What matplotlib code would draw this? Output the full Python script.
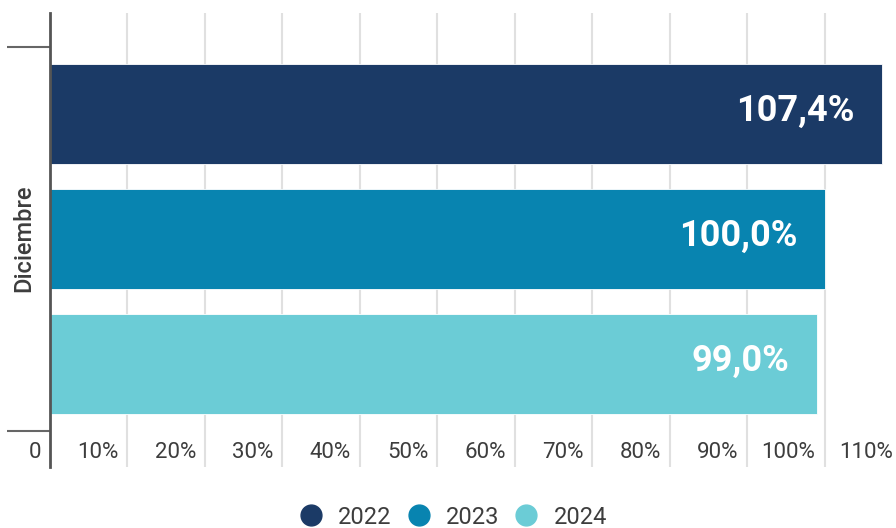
import matplotlib.pyplot as plt
from matplotlib.lines import Line2D
from matplotlib.transforms import ScaledTranslation

plt.rcParams['font.family'] = ['Roboto', 'DejaVu Sans']

# data
category = 'Diciembre'
years = ['2022', '2023', '2024']
values = [107.4, 100.0, 99.0]
value_labels = ['107,4%', '100,0%', '99,0%']
colors = ['#1B3A66', '#0884B0', '#6BCCD6']
xticks = [0, 10, 20, 30, 40, 50, 60, 70, 80, 90, 100, 110]
xtick_labels = ['0', '10%', '20%', '30%', '40%', '50%', '60%', '70%',
                '80%', '90%', '100%', '110%']

W, H, DPI = 896, 528, 100
fig = plt.figure(figsize=(W / DPI, H / DPI), dpi=DPI)
ax = fig.add_axes([50 / W, (H - 467) / H, 852 / W, 454 / H])

pos = list(range(len(values)))
ax.barh(pos, values, height=0.8, color=colors, edgecolor='white', linewidth=0.6, zorder=3)

ax.set_xlim(0, 110)
ax.set_ylim(2.824, -0.808)

# grid
ax.set_xticks(xticks)
ax.set_xticklabels(xtick_labels)
ax.grid(axis='x', color='#E0E0E0', linewidth=1.5, zorder=0)
ax.tick_params(axis='x', length=0, pad=0, labelsize=16, labelcolor='#3d3d3d')
for lab in ax.get_xticklabels():
    lab.set_ha('right')
    lab.set_va('center')
    lab.set_transform(lab.get_transform() + ScaledTranslation(-9 / DPI, 15 / DPI, fig.dpi_scale_trans))

# category boundary ticks on y axis
ax.set_yticks([-0.536, 2.536])
ax.set_yticklabels(['', ''])
ax.tick_params(axis='y', length=31, width=1.5, color='#666666')

for s in ['top', 'right', 'bottom']:
    ax.spines[s].set_visible(False)
ax.spines['left'].set_color('#555555')
ax.spines['left'].set_linewidth(2)
ax.spines['left'].set_zorder(4)

ax.set_ylabel(category, fontsize=17, color='#3d3d3d', fontweight='medium')
ax.yaxis.set_label_coords(-15 / 852, (467 - 238) / 454)

# value labels inside bars
for p, v, t in zip(pos, values, value_labels):
    ax.annotate(t, xy=(v, p), xytext=(-19.5, 2), textcoords='offset points',
                ha='right', va='center', fontsize=26, fontweight='bold',
                color='white', zorder=5)

# legend
handles = [Line2D([], [], marker='o', linestyle='none', markersize=15,
                  markerfacecolor=c, markeredgecolor=c) for c in colors]
fig.legend(handles, years, loc='center', bbox_to_anchor=(453 / W, 1 - 517 / H),
           ncol=3, frameon=False, fontsize=17, labelcolor='#3d3d3d',
           handlelength=1.0, handletextpad=0.65, columnspacing=0.65,
           borderaxespad=0)

fig.savefig('out.png', dpi=DPI)
